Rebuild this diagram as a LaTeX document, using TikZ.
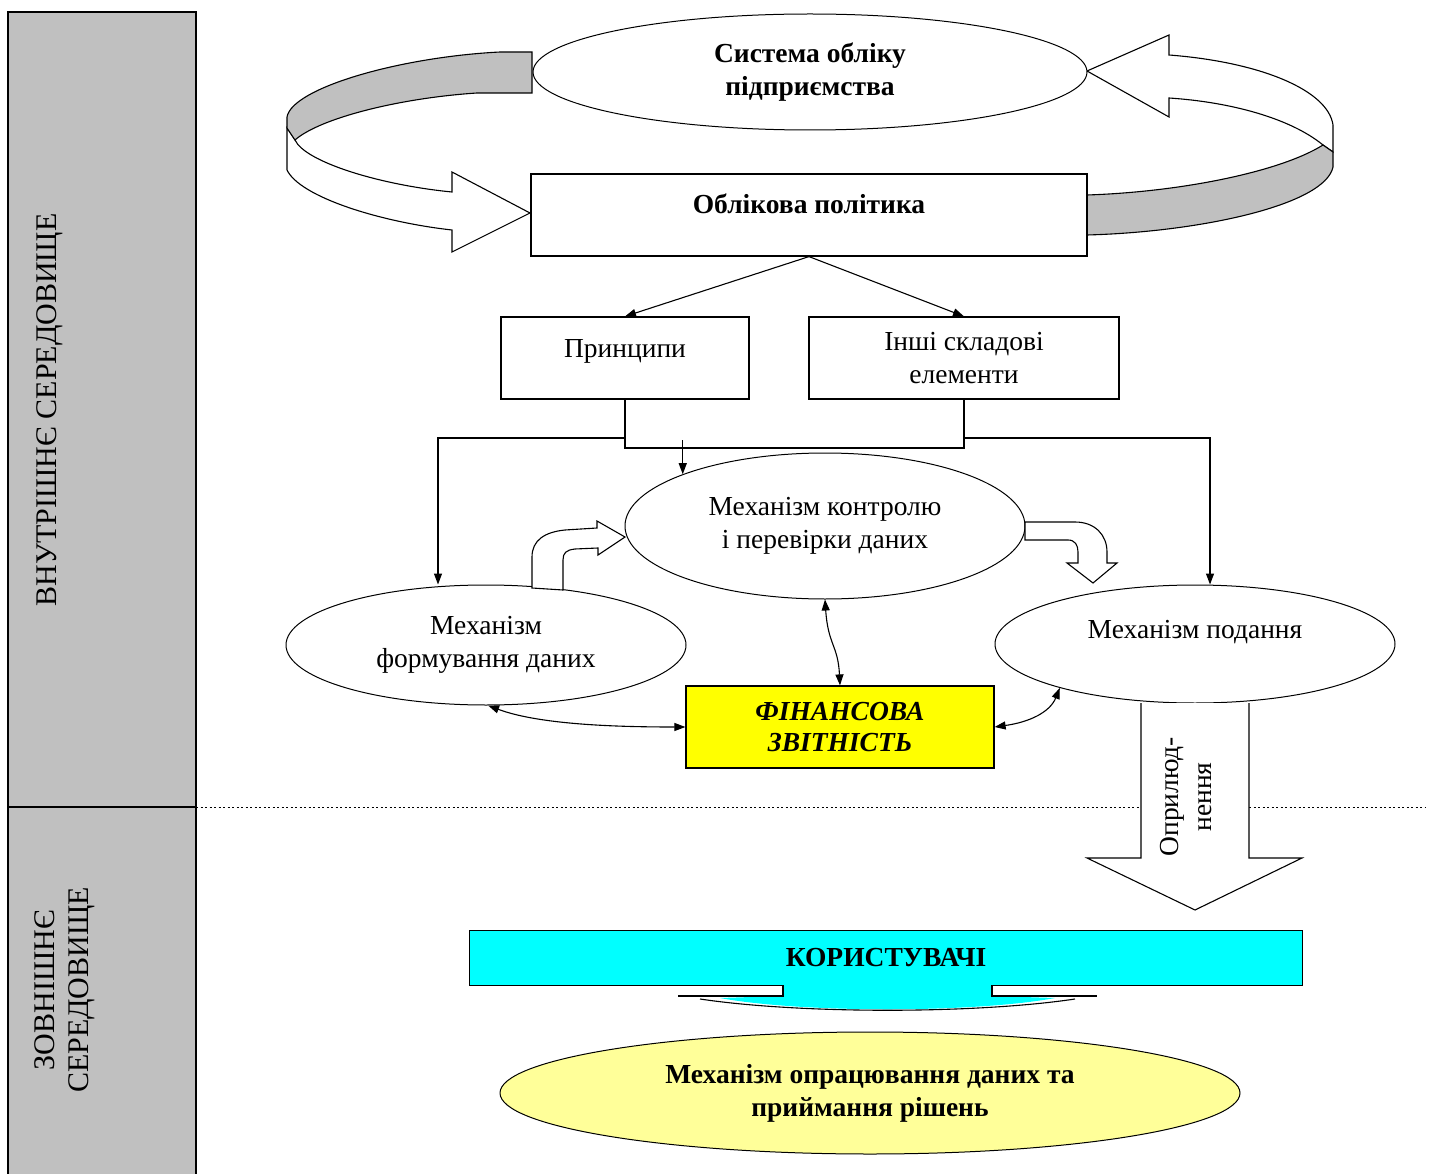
\documentclass[tikz,border=0pt]{standalone}
\usepackage{fontspec}
\setmainfont{Liberation Serif}
\usetikzlibrary{shapes.geometric,arrows.meta,calc}
\definecolor{sidegray}{HTML}{C0C0C0}
\definecolor{cyanc}{HTML}{00FFFF}
\definecolor{yellowc}{HTML}{FFFF00}
\definecolor{lightyel}{HTML}{FFFF99}
\begin{document}
\begin{tikzpicture}[x=1pt,y=-1pt,
  every node/.style={font=\fontsize{27.5}{33}\selectfont, inner sep=0pt, align=center},
  boxnode/.style={draw, line width=1.2pt, rectangle, fill=white},
  ellnode/.style={draw, line width=1pt, ellipse, fill=white},
  arr/.style={line width=1.1pt, -{Triangle[length=11pt,width=8pt]}},
  darr/.style={line width=1.1pt, {Triangle[length=11pt,width=8pt]}-{Triangle[length=11pt,width=8pt]}},
  shp/.style={line width=1.1pt, line join=miter},
  bf/.style={font=\fontsize{27.5}{33}\selectfont\bfseries}
]
\useasboundingbox (0,0) rectangle (1432,1174);
\fill[white] (0,0) rectangle (1432,1174);

% side panel
\draw[line width=1.2pt, fill=sidegray] (8,12) rectangle (196,1180);
\draw[line width=1.2pt] (8,807) -- (196,807);
\node[rotate=90, font=\fontsize{30}{34}\selectfont] (inner) at (50,410) {ВНУТРІШНЄ СЕРЕДОВИЩЕ};
\node[rotate=90, font=\fontsize{30}{34}\selectfont] (outer) at (65,990) {ЗОВНІШНЄ\\СЕРЕДОВИЩЕ};

% dotted border line
\draw[line width=1pt, dash pattern=on 2pt off 2.5pt] (196,807) -- (1425,807);

% top ribbon arrows
\draw[shp, fill=white] (287,128) -- (287,170) .. controls (300,197) and (380,222) .. (452,230)
  -- (452,252) -- (530,213) -- (452,172) -- (452,192)
  .. controls (380,185) and (305,162) .. (295,140) -- cycle;
\draw[shp, fill=sidegray] (532,52) -- (500,52) .. controls (400,57) and (292,88) .. (287,117)
  -- (287,128) -- (295,140) .. controls (320,118) and (400,98) .. (477,93) -- (532,93) -- cycle;
\draw[shp, fill=white] (1087,71) -- (1169,35) -- (1169,55) .. controls (1260,62) and (1328,90) .. (1333,125)
  -- (1333,152) -- (1323,145) .. controls (1290,118) and (1230,102) .. (1169,98) -- (1169,117) -- cycle;
\draw[shp, fill=sidegray] (1323,145) .. controls (1280,172) and (1180,192) .. (1087,195)
  -- (1087,235) .. controls (1200,232) and (1325,205) .. (1333,167) -- (1333,152) -- cycle;

% top nodes
\node[ellnode, bf, minimum width=554, minimum height=116] (sys) at (810,72) {Система обліку\\підприємства};
\node[boxnode, bf, minimum width=556, minimum height=82, text height=19pt, text depth=21pt] (pol) at (809,215) {Облікова політика};

\node[boxnode, minimum width=248, minimum height=82, text height=19pt, text depth=21pt] (prin) at (625,358) {Принципи};
\node[boxnode, minimum width=310, minimum height=82] (inshi) at (964,358) {Інші складові\\елементи};

\draw[arr] (pol.south) -- (prin.north);
\draw[arr] (pol.south) -- (inshi.north);

% U connector and distribution line
\coordinate (ub) at (0,448);
\coordinate (lx) at (438,438);
\coordinate (rx) at (1210,438);
\coordinate (kx) at (0,440);
\draw[line width=1.1pt] (prin.south) -- (prin.south |- ub) -- (inshi.south |- ub) -- (inshi.south);

% ellipses of mechanisms
\node[ellnode, minimum width=400, minimum height=146] (kon) at (825,526) {Механізм контролю\\і перевірки даних};
\node[ellnode, minimum width=400, minimum height=120] (form) at (486,645) {Механізм\\формування даних};
\node[ellnode, minimum width=400, minimum height=118, text height=19pt, text depth=31pt] (pod) at (1195,644) {Механізм подання};

\draw[arr] (prin.south |- lx) -- (lx) -- (lx |- form.north);
\draw[arr] (inshi.south |- rx) -- (rx) -- (rx |- pod.north);
\draw[arr] (kon.160 |- kx) -- (kon.160);

% curved block arrows
\draw[shp, fill=white] (532,588) -- (532,557) .. controls (532,540) and (545,532) .. (565,530) -- (597,528)
  -- (597,521) -- (625,537) -- (598,555) -- (598,548) -- (575,549)
  .. controls (566,550) and (563,553) .. (563,560) -- (563,590) -- cycle;
\draw[shp, fill=white] (1025,522) -- (1075,522) .. controls (1095,522) and (1107,535) .. (1107,552)
  -- (1107,563) -- (1117,563) -- (1093,583) -- (1067,563) -- (1078,563) -- (1078,552)
  .. controls (1078,545) and (1075,540) .. (1068,540) -- (1025,540) -- cycle;

% financial statements
\node[boxnode, fill=yellowc, minimum width=308, minimum height=82, font=\fontsize{27.5}{31}\selectfont\bfseries\itshape] (fz) at (840,727) {ФІНАНСОВА\\ЗВІТНІСТЬ};

\draw[darr] (kon.south) .. controls (828,645) and (838,645) .. (fz.north);
\draw[darr] (form.-88) .. controls (540,725) and (620,727) .. (fz.west);
\draw[darr] (fz.east) .. controls (1030,722) and (1050,712) .. (pod.-162);

% publication arrow
\draw[shp, fill=white] (1141,703) -- (1141,858) -- (1087,858) -- (1195,910) -- (1302,858) -- (1249,858) -- (1249,703);
\node[rotate=90] (opr) at (1186,797) {Оприлюд-\\нення};

% users
\fill[cyanc] (783,980) -- (783,996) -- (720,998) .. controls (800,1013) and (975,1013) .. (1055,998) -- (992,996) -- (992,980) -- cycle;
\draw[line width=1.1pt] (783,986) -- (783,996) -- (678,996);
\draw[line width=1.1pt] (992,986) -- (992,996) -- (1097,996);
\draw[line width=1.1pt] (700,999) .. controls (800,1014) and (975,1014) .. (1075,999);
\node[boxnode, fill=cyanc, bf, minimum width=833, minimum height=55] (kor) at (886,958) {КОРИСТУВАЧІ};
\fill[cyanc] (784,984) rectangle (991,994);

\node[ellnode, fill=lightyel, bf, minimum width=740, minimum height=122] (dec) at (870,1093) {Механізм опрацювання даних та\\приймання рішень};
\end{tikzpicture}
\end{document}
